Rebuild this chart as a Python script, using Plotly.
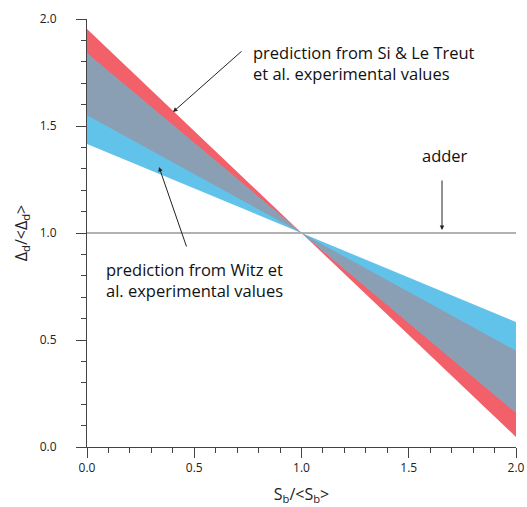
import plotly.graph_objects as go

# data
x_ends = [0.0, 2.0]
pivot = [1.0, 1.0]
si_upper_slope = -0.953   # Si & Le Treut band (red)
si_lower_slope = -0.55
witz_upper_slope = -0.84  # Witz band (blue)
witz_lower_slope = -0.416
adder_y = [1.0, 1.0]

RED = "#F2606A"
BLUE = "#62C3EA"
GREY = "#8A9FB3"

def line(slope, x):
    return 1.0 + slope * (x - 1.0)

fig = go.Figure()

def band(s_a, s_b, color):
    xs = [x_ends[0], pivot[0], x_ends[0], None, x_ends[1], pivot[0], x_ends[1]]
    ys = [line(s_a, x_ends[0]), pivot[1], line(s_b, x_ends[0]), None,
          line(s_a, x_ends[1]), pivot[1], line(s_b, x_ends[1])]
    fig.add_trace(go.Scatter(x=xs, y=ys, fill="toself", fillcolor=color,
                             mode="lines", line=dict(width=0, color=color),
                             hoverinfo="skip", showlegend=False))

band(si_upper_slope, si_lower_slope, RED)
band(witz_upper_slope, witz_lower_slope, BLUE)
# overlap region
band(witz_upper_slope, si_lower_slope, GREY)

fig.add_trace(go.Scatter(x=x_ends, y=adder_y, mode="lines",
                         line=dict(color="#999999", width=1.5),
                         hoverinfo="skip", showlegend=False))

FONT = "Open Sans"
# pixel -> data helpers (plot area: x 87..516, y 447..19 in the page)
def dx(px):
    return (px - 87) / 214.5

def dy(py):
    return (447 - py) / 214.0

arrow = dict(showarrow=True, arrowhead=2, arrowsize=0.9, arrowwidth=1, arrowcolor="#222",
             xref="x", yref="y", axref="x", ayref="y", text="")
fig.add_annotation(x=dx(173), y=dy(112), ax=dx(243), ay=dy(50), **arrow)
fig.add_annotation(x=dx(159), y=dy(167), ax=dx(187), ay=dy(248), **arrow)
fig.add_annotation(x=dx(442), y=dy(230), ax=dx(442), ay=dy(179), **arrow)

txt = dict(showarrow=False, xref="x", yref="y", xanchor="left", yanchor="middle",
           align="left", font=dict(family=FONT, size=16.5, color="#111"))
fig.add_annotation(x=dx(251), y=dy(62.5),
                   text="prediction from Si &amp; Le Treut<br>et al. experimental values", **txt)
fig.add_annotation(x=dx(104), y=dy(280),
                   text="prediction from Witz et<br>al. experimental values", **txt)
fig.add_annotation(x=dx(420), y=dy(155), text="adder", **txt)

axis_common = dict(range=[0, 2], dtick=0.5, tickformat=".1f", ticks="outside",
                   ticklen=10, tickcolor="#444", tickwidth=1, showline=True,
                   linecolor="#444", linewidth=1, showgrid=False, zeroline=False,
                   automargin=False,
                   tickfont=dict(family=FONT, size=12, color="#222"),
                   minor=dict(dtick=0.1, ticks="outside", ticklen=5, tickcolor="#444",
                              showgrid=False))

fig.update_layout(
    width=527, height=507,
    margin=dict(l=87, r=11, t=19, b=60),
    plot_bgcolor="white", paper_bgcolor="white",
    xaxis=dict(**axis_common, title=dict(text="S<sub>b</sub>/&lt;S<sub>b</sub>&gt;",
               font=dict(family=FONT, size=16, color="#222"), standoff=13)),
    yaxis=dict(**axis_common, ticklabelstandoff=17,
               title=dict(text="Δ<sub>d</sub>/&lt;Δ<sub>d</sub>&gt;",
               font=dict(family=FONT, size=16, color="#222"), standoff=8)),
)

fig.write_html("out.html", config={"displayModeBar": False},
               post_script="document.body.style.margin='0';document.body.style.overflow='hidden';")
